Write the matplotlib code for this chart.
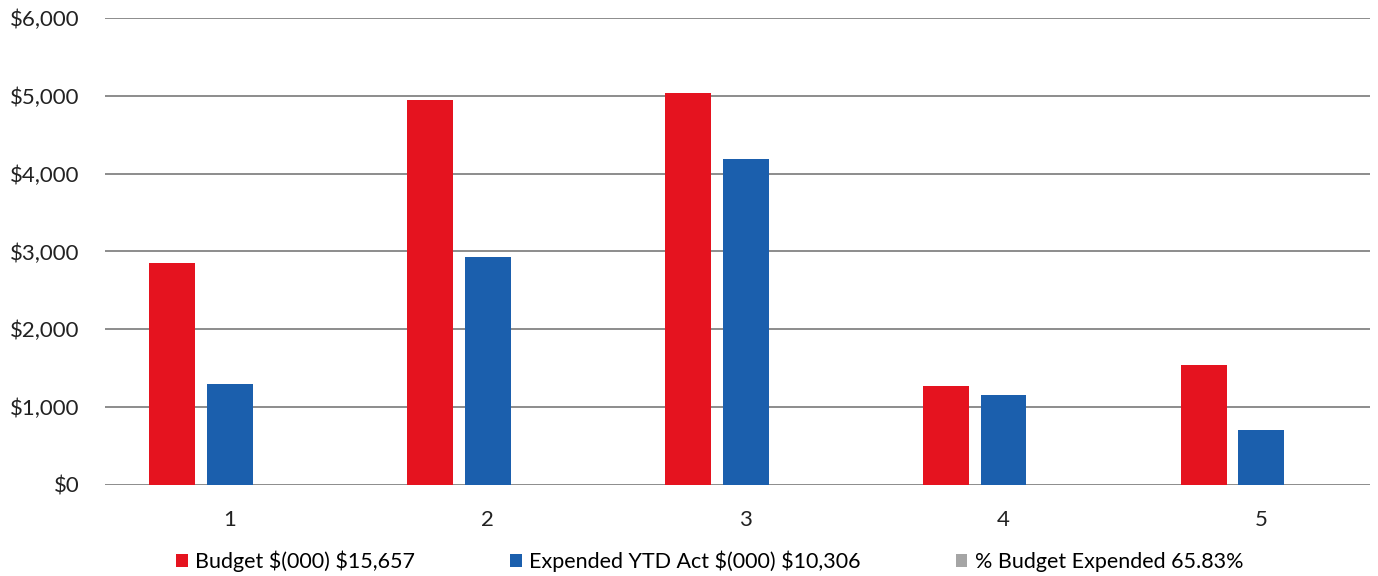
import numpy as np
from matplotlib import pyplot as plt
from matplotlib.ticker import FuncFormatter

# chart data ($000)
groups = ["1", "2", "3", "4", "5"]
budget = [2852, 4945, 5030, 1275, 1543]
expended = [1300, 2928, 4190, 1159, 700]
pctExpended = [0.46, 0.59, 0.83, 0.91, 0.45]   # fraction, far too small to see on this scale
seriesNames = [r"Budget \$(000) \$15,657",
               r"Expended YTD Act \$(000) \$10,306",
               "% Budget Expended 65.83%"]
yTicks = [0, 1000, 2000, 3000, 4000, 5000, 6000]

plt.rcParams['font.family'] = ['Lato', 'DejaVu Sans']

fig = plt.figure(figsize=(13.78, 5.76), dpi=100)
ax = fig.add_axes([0.076, 0.158, 0.918, 0.811])

x = np.arange(len(groups))
width = 0.178
step = 0.223
ax.bar(x - step, budget, width, color='#e5131f', label=seriesNames[0], zorder=3)
ax.bar(x, expended, width, color='#1b5fad', label=seriesNames[1], zorder=3)
ax.bar(x + step, pctExpended, width, color='#a5a5a5', label=seriesNames[2], zorder=3)

ax.set_xlim(-0.485, 4.42)
ax.set_ylim(0, 6000)
ax.set_yticks(yTicks)
ax.yaxis.set_major_formatter(FuncFormatter(lambda v, p: r"\${:,.0f}".format(v)))
ax.set_xticks(x)
ax.set_xticklabels(groups)

# gridlines only, no frame and no tick marks
ax.grid(axis='y', color='#8c8c8c', linewidth=1.4, zorder=0)
for s in ax.spines.values():
    s.set_visible(False)
ax.tick_params(axis='both', length=0, labelsize=16, colors='#222222')
ax.tick_params(axis='y', pad=18)
ax.tick_params(axis='x', pad=18)

fig.legend(loc='center', bbox_to_anchor=(0.515, 0.026), ncol=3, frameon=False,
           fontsize=15.5, handlelength=0.55, handleheight=0.55, handletextpad=0.35,
           columnspacing=4.4)

plt.savefig('out.png', dpi=100)
